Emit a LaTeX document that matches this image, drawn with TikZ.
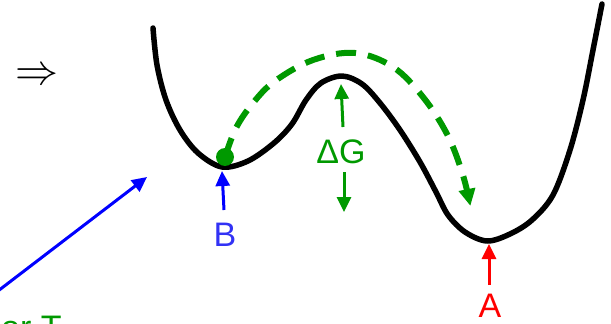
\documentclass[tikz,border=0pt]{standalone}
\usepackage{fontspec}
\setmainfont{Liberation Sans}
\usetikzlibrary{arrows.meta}
\definecolor{pathgreen}{RGB}{0,153,0}
\definecolor{labelblue}{RGB}{50,50,245}
\tikzset{
  lbl/.style={inner sep=0pt, font=\fontsize{34}{40}\selectfont},
  energy/.style={line width=5.5pt, line join=round, line cap=round},
  route/.style={pathgreen, line width=6pt, dash pattern=on 20pt off 12pt,
    -{Triangle[length=17pt,width=16pt]}, shorten >=-2pt},
  pointer/.style={line width=3pt, -{Triangle[length=15pt,width=14pt]}},
}
\begin{document}
\begin{tikzpicture}[x=1pt,y=-1pt]
\useasboundingbox (0,0) rectangle (611,324);

% implication sign
\node[inner sep=0pt, scale=4.3] (impl) at (37,77) {$\Rightarrow$};

% free-energy landscape
\draw[energy] plot[smooth, tension=0.55] coordinates {
  (153,28) (157,65) (166,100) (180,130) (198,153) (222,167) (248,161)
  (274,143) (292,124) (306,100) (321,83) (342,76) (362,84) (380,103)
  (400,130) (420,162) (436,192) (448,215) (465,232) (487,241) (510,234)
  (532,220) (553,195) (570,150) (583,100) (593,50) (602,4)};

% named points on the landscape
\coordinate (bmin) at (222,171);
\coordinate (amin) at (489,244);
\coordinate (peak) at (341,84);

% transition route from B to A
\fill[pathgreen] (225,157) circle (9pt);
\draw[route] plot[smooth, tension=0.6] coordinates {
  (225,157) (236,128) (253,103) (275,81) (313,60) (355,53) (393,67)
  (423,97) (447,134) (462,172) (470,204)};

% barrier height
\node[lbl, text=pathgreen] (dg) at (341,152) {ΔG};
\coordinate (dgbot) at (344,212);
\draw[pointer, pathgreen] (343,127) -- (peak);
\draw[pointer, pathgreen] (344,172) -- (dgbot);

% state labels
\node[lbl, text=labelblue] (B) at (225,235) {B};
\draw[pointer, blue] (224,210) -- (bmin);
\node[lbl, text=red] (A) at (490,306) {A};
\draw[pointer, red] (489,285) -- (amin);

% tilting parameter
\coordinate (tail) at (-6,294);
\coordinate (head) at (147,177);
\draw[pointer, blue] (tail) -- (head);
\node[lbl, text=pathgreen, anchor=base west] (param) at (1,339) {or T};
\end{tikzpicture}
\end{document}
